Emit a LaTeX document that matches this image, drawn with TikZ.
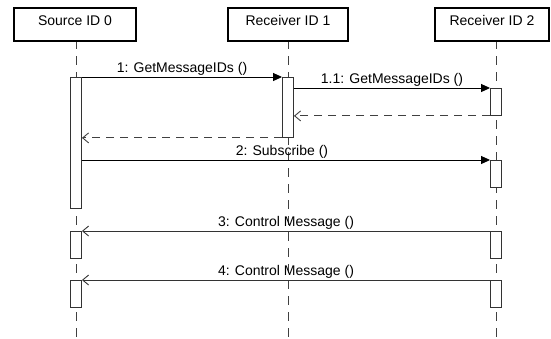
\documentclass[tikz,border=0pt]{standalone}
\usepackage{fontspec}
\setmainfont{Liberation Sans}
\usetikzlibrary{arrows.meta}
\begin{document}
\begin{tikzpicture}[x=1pt,y=-1pt,
  head/.style={draw=black,line width=1.5pt,fill=white,anchor=north,
    font=\fontsize{14}{16}\selectfont,text height=14pt,text depth=11pt,
    inner ysep=4pt,inner xsep=0pt},
  life/.style={draw=black!75,line width=0.9pt,dash pattern=on 9pt off 7pt},
  act/.style={draw=black!80,fill=white,line width=0.9pt,anchor=north,
    minimum width=11pt,inner sep=0pt},
  call/.style={draw=black,line width=0.9pt,-{Triangle[length=9pt,width=8pt]}},
  ret/.style={draw=black!75,line width=0.9pt,dash pattern=on 8pt off 6pt,
    -{Straight Barb[length=6pt,width=10pt]}},
  sig/.style={draw=black!80,line width=0.9pt,-{Straight Barb[length=6pt,width=10pt]}},
  lbl/.style={font=\fontsize{14}{16}\selectfont,inner sep=1.5pt,above}
]
\useasboundingbox (0,0) rectangle (551,338);
% lifelines
\coordinate (t0) at (76,40);  \coordinate (e0) at (76,338);
\coordinate (t1) at (288,40); \coordinate (e1) at (288,338);
\coordinate (t2) at (496,40); \coordinate (e2) at (496,338);
\draw[life] (t0) -- (e0);
\draw[life] (t1) -- (e1);
\draw[life] (t2) -- (e2);
% headers
\node[head,minimum width=122pt] (h0) at (75,7) {Source ID 0};
\node[head,minimum width=120pt] (h1) at (288,7) {Receiver ID 1};
\node[head,minimum width=114pt] (h2) at (492,7) {Receiver ID 2};
% activations
\node[act,minimum height=131pt] (a0) at (76,77) {};
\node[act,minimum height=60pt] (a1) at (288,77) {};
\node[act,minimum height=27pt] (b2) at (496,88) {};
\node[act,minimum height=27pt] (c2) at (496,160) {};
\node[act,minimum height=27pt] (d0) at (76,231) {};
\node[act,minimum height=27pt] (d2) at (496,231) {};
\node[act,minimum height=27pt] (f0) at (76,280) {};
\node[act,minimum height=27pt] (f2) at (496,280) {};
% messages
\draw[call] (a0.north east) -- node[lbl] {1: GetMessageIDs ()} (a1.north west);
\draw[call] (a1.east |- b2.north west) -- node[lbl] {1.1: GetMessageIDs ()} (b2.north west);
\draw[ret] (b2.south west) -- (a1.east |- b2.south west);
\draw[ret] (a1.south west) -- (a0.east |- a1.south west);
\draw[call] (a0.east |- c2.north west) -- node[lbl,pos=0.49] {2: Subscribe ()} (c2.north west);
\draw[sig] (d2.north west) -- node[lbl] {3: Control Message ()} (d0.north east);
\draw[sig] (f2.north west) -- node[lbl] {4: Control Message ()} (f0.north east);
\end{tikzpicture}
\end{document}
